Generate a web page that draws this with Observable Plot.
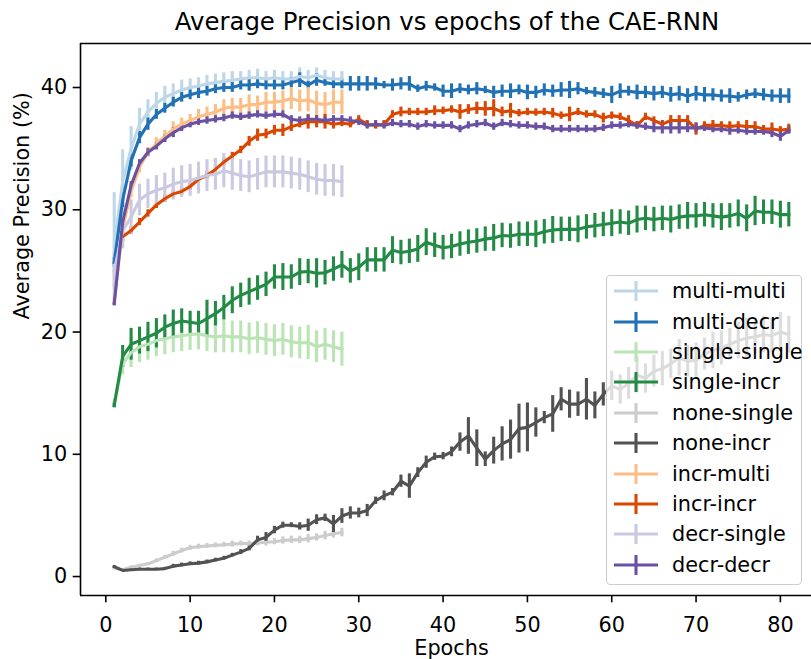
<!DOCTYPE html>
<html>
<head>
<meta charset="utf-8">
<script src="https://cdn.jsdelivr.net/npm/d3@7"></script>
<script src="https://cdn.jsdelivr.net/npm/@observablehq/plot@0.6"></script>
<style>
  body { margin: 0; background: #fff; }
  #wrap { position: relative; width: 811px; height: 659px; overflow: hidden; font-family: "DejaVu Sans", sans-serif; background: #fff; }
  #title { position: absolute; left: 0; top: 7px; width: 894px; text-align: center; font-size: 24.4px; line-height: 30px; color: #000; white-space: nowrap; }
  #chart { position: absolute; left: 0; top: 35px; }
  #legend { position: absolute; left: 606px; top: 275px; width: 196px; height: 310px; box-sizing: border-box;
            border: 1.6px solid #cccccc; border-radius: 4px; background: rgba(255,255,255,0.8); }
  .row { position: absolute; left: 0; height: 30px; line-height: 30px; width: 190px; }
  .row svg { position: absolute; left: 6px; top: 0; }
  .row span { position: absolute; left: 65px; top: 0; font-size: 20.8px; color: #000; white-space: nowrap; }
</style>
</head>
<body>
<div id="wrap">
  <div id="title">Average Precision vs epochs of the CAE-RNN</div>
  <div id="chart"></div>
  <div id="legend"></div>
</div>
<script>
// ---- data ----
const seriesNames = ["multi-multi","multi-decr","single-single","single-incr","none-single","none-incr","incr-multi","incr-incr","decr-single","decr-decr"];
const seriesColors = ["#bdd7e7","#2171b5","#bae4b3","#238b45","#cccccc","#525252","#fdbe85","#d94701","#cbc9e2","#6a51a3"];
// first epoch of each series
const seriesStart = [1,1,1,1,1,1,1,2,1,1];
const xTicks = [0,10,20,30,40,50,60,70,80];
const yTicks = [0,10,20,30,40];

const multiMulti = [27.0,32.3,35.0,37.0,38.0,38.7,39.2,39.5,39.8,40.0,40.1,40.3,40.4,40.5,40.6,40.7,40.8,40.8,40.7,40.8,40.7,40.7,40.9,40.8,41.0,40.8,40.7,40.7];
const multiMultiErr = [4.4,2.6,1.8,1.3,1.0,0.9,0.9,0.8,0.8,0.7,0.7,0.7,0.7,0.7,0.7,0.6,0.6,0.7,0.6,0.6,0.6,0.6,0.7,0.6,0.6,0.6,0.6,0.6];

const multiDecr = [25.7,30.8,34.0,35.9,37.0,37.8,38.3,38.8,39.2,39.4,
  39.6,39.7,39.9,40.0,40.0,40.2,40.2,40.3,40.2,40.2,
  40.2,40.4,40.6,40.2,40.6,40.4,40.3,40.3,40.3,40.3,
  40.3,40.3,40.2,40.2,40.3,40.3,39.9,40.1,40.0,39.7,
  39.7,39.9,39.8,39.9,39.8,39.6,39.7,39.7,39.8,39.6,
  39.6,39.8,39.7,39.8,39.8,39.9,39.7,39.6,39.5,39.4,
  39.7,39.7,39.6,39.6,39.5,39.6,39.4,39.5,39.3,39.5,
  39.4,39.4,39.3,39.3,39.2,39.4,39.5,39.4,39.3,39.3,39.3];
const multiDecrErr = [0.4,0.6,0.5,0.5,0.5,0.4,0.4,0.4,0.4,0.4,
  0.5,0.4,0.4,0.4,0.4,0.4,0.5,0.4,0.4,0.4,
  0.4,0.4,0.6,0.3,0.5,0.3,0.4,0.4,0.6,0.6,
  0.6,0.5,0.3,0.5,0.5,0.6,0.3,0.4,0.3,0.5,
  0.6,0.4,0.4,0.5,0.3,0.5,0.5,0.6,0.4,0.6,
  0.5,0.5,0.5,0.6,0.7,0.5,0.3,0.4,0.4,0.7,
  0.6,0.4,0.6,0.5,0.6,0.5,0.6,0.6,0.6,0.6,
  0.6,0.5,0.5,0.6,0.4,0.4,0.4,0.5,0.5,0.6,0.6];

const singleSingle = [14.2,17.4,18.3,18.8,19.0,19.3,19.45,19.6,19.7,19.8,19.85,19.7,19.6,19.7,19.6,19.6,19.45,19.55,19.4,19.3,19.4,19.2,19.1,19.15,18.8,19.0,18.8,18.6];
const singleSingleErr = [0.3,0.9,1.2,1.3,1.3,1.3,1.3,1.3,1.3,1.3,1.3,1.3,1.3,1.4,1.3,1.3,1.3,1.3,1.3,1.3,1.3,1.3,1.3,1.4,1.3,1.3,1.3,1.4];

const singleIncr = [14.0,18.0,19.0,19.3,19.6,19.9,20.4,20.7,20.9,20.8,
  20.7,21.1,21.5,22.0,22.6,23.0,23.3,23.6,23.9,24.5,
  24.5,24.5,24.9,24.95,24.8,24.85,25.15,25.5,25.0,25.3,
  25.9,25.9,25.9,26.7,26.5,26.6,26.8,27.35,27.1,26.9,
  27.0,27.2,27.35,27.45,27.6,27.7,27.9,27.85,28.0,28.0,
  28.0,28.2,28.35,28.4,28.4,28.4,28.6,28.7,28.8,28.9,
  29.0,28.9,29.2,29.3,29.2,29.3,29.2,29.4,29.5,29.5,
  29.6,29.5,29.4,29.5,29.7,29.3,29.9,29.8,29.8,29.6,29.6];
const singleIncrErr = [0.2,0.9,1.3,1.1,1.2,1.2,1.0,1.1,1.0,0.9,
  1.0,1.5,1.0,1.0,1.1,1.0,1.1,1.0,1.0,1.0,
  1.1,1.0,1.1,1.0,1.2,1.0,1.0,1.1,1.0,1.1,
  1.0,1.0,1.0,1.1,1.0,1.0,1.1,1.1,1.0,1.0,
  1.0,1.0,1.0,1.0,1.0,1.1,1.0,1.0,1.0,1.0,
  1.1,1.0,1.1,1.0,1.0,1.1,1.0,1.0,1.0,1.1,
  1.0,1.0,1.1,1.0,1.0,1.0,1.1,1.0,1.1,1.0,
  1.0,1.0,1.1,1.0,1.1,1.1,1.2,1.0,1.0,1.1,1.0];

const noneSingle = [0.7,0.55,0.76,0.9,1.04,1.3,1.58,1.85,2.13,2.35,2.45,2.5,2.55,2.6,2.65,2.7,2.7,2.75,2.8,2.85,2.95,3.0,3.0,3.1,3.2,3.35,3.5,3.6];
const noneSingleErr = [0.05,0.1,0.1,0.1,0.1,0.15,0.15,0.2,0.2,0.2,0.2,0.2,0.2,0.2,0.25,0.2,0.2,0.25,0.3,0.25,0.3,0.3,0.3,0.35,0.3,0.35,0.35,0.35];

const noneIncr = [0.8,0.5,0.55,0.6,0.6,0.6,0.65,0.85,0.95,1.05,
  1.1,1.2,1.35,1.5,1.75,2.0,2.3,3.0,3.2,3.8,
  4.2,4.2,4.1,4.2,4.65,4.8,4.3,4.95,5.2,5.2,
  5.4,6.2,6.6,6.9,7.8,7.4,8.5,9.35,9.8,9.85,
  10.2,11.0,11.5,10.5,9.6,10.3,10.85,11.2,12.1,12.2,
  12.6,13.0,13.3,14.5,14.1,14.1,14.5,14.0,14.9,15.6,
  15.3,15.8,16.5,16.2,16.8,17.0,17.4,17.9,17.6,17.7,
  18.2,18.5,18.7,19.0,19.3,19.5,19.6,19.8,19.7,20.0,19.8];
const noneIncrErr = [0.1,0.1,0.1,0.1,0.1,0.1,0.1,0.15,0.15,0.15,
  0.15,0.15,0.15,0.15,0.15,0.2,0.2,0.3,0.4,0.3,
  0.25,0.2,0.3,0.5,0.4,0.3,0.7,0.6,0.5,0.4,
  0.5,0.3,0.4,0.3,0.5,1.0,0.4,0.5,0.3,0.3,
  0.4,0.75,1.5,1.5,0.6,1.1,1.4,1.6,2.0,2.0,
  1.2,0.5,1.5,0.95,1.15,1.0,1.7,1.1,0.95,1.2,
  1.2,1.3,1.5,1.2,1.3,1.4,1.2,1.5,1.3,1.4,
  1.3,1.5,1.4,1.3,1.5,1.6,1.4,1.5,1.4,1.6,1.5];

const incrMulti = [22.5,28.5,31.5,33.5,34.7,35.4,36.0,36.6,37.0,37.3,37.6,37.8,38.0,38.3,38.4,38.4,38.6,38.6,38.8,38.8,38.9,39.1,38.9,39.0,38.7,38.6,38.8,38.8];
const incrMultiErr = [0.3,0.6,0.5,0.5,0.4,0.5,0.5,0.6,0.5,0.5,0.6,0.6,0.6,0.7,0.7,0.7,0.8,0.7,0.8,0.8,0.8,0.9,0.9,1.0,1.0,1.0,1.0,1.0];

// incr-incr: epochs 2..81
const incrIncr = [27.8,28.3,29.0,29.7,30.4,30.9,31.3,31.5,31.9,
  32.5,32.8,33.3,33.9,34.4,34.9,35.6,36.1,36.2,36.5,
  36.5,36.8,37.0,37.2,37.2,37.2,37.0,37.1,37.0,37.4,
  37.0,36.9,37.0,37.8,38.0,38.0,38.0,38.0,38.1,38.1,
  38.2,38.0,38.2,38.3,38.25,38.3,38.0,38.1,37.9,38.0,
  37.95,38.0,37.9,37.7,37.8,38.0,37.8,37.8,37.5,37.7,
  37.6,37.3,36.9,37.6,37.3,37.0,37.3,37.3,37.3,36.6,
  36.9,36.9,36.9,36.8,36.9,36.8,36.8,36.6,36.6,36.5,36.6];
const incrIncrErr = [0.4,0.3,0.3,0.3,0.3,0.3,0.3,0.3,0.3,
  0.3,0.3,0.3,0.3,0.3,0.3,0.4,0.5,0.4,0.4,
  0.5,0.4,0.3,0.6,0.5,0.6,0.4,0.3,0.3,0.3,
  0.3,0.3,0.3,0.3,0.4,0.3,0.3,0.3,0.4,0.3,
  0.3,0.6,0.4,0.5,0.6,0.7,0.4,0.6,0.3,0.3,
  0.3,0.3,0.4,0.3,0.6,0.3,0.3,0.3,0.4,0.3,
  0.3,0.4,0.3,0.3,0.3,0.3,0.4,0.4,0.4,0.5,
  0.3,0.4,0.3,0.4,0.3,0.5,0.4,0.3,0.5,0.3,0.4];

const decrSingle = [25.0,28.3,29.4,30.8,31.3,31.6,31.8,32.1,32.3,32.4,32.6,32.8,32.9,33.2,33.0,32.8,32.7,32.9,33.1,33.1,33.1,33.0,32.9,32.7,32.5,32.4,32.4,32.3];
const decrSingleErr = [1.5,1.5,1.4,1.3,1.2,1.2,1.2,1.3,1.3,1.3,1.3,1.3,1.3,1.4,1.4,1.3,1.3,1.3,1.3,1.3,1.3,1.3,1.3,1.3,1.3,1.3,1.3,1.3];

const decrDecr = [22.3,29.0,32.0,33.8,34.7,35.2,35.8,36.3,36.7,37.0,
  37.2,37.3,37.4,37.5,37.7,37.6,37.7,37.8,37.7,37.8,
  37.8,37.4,37.3,37.4,37.4,37.3,37.4,37.4,37.3,37.2,
  36.9,37.0,36.9,37.1,37.0,37.0,36.8,37.0,36.9,36.9,
  36.9,36.6,36.9,37.0,37.1,36.8,37.1,37.0,36.9,36.9,
  36.8,36.8,36.6,36.6,36.6,36.6,36.6,36.6,36.7,36.9,
  36.9,37.0,36.9,36.8,36.7,36.7,36.7,36.7,36.7,36.7,
  36.7,36.6,36.6,36.5,36.5,36.4,36.4,36.4,36.3,36.0,36.5];
const decrDecrErr = [0.1,0.3,0.3,0.3,0.3,0.3,0.3,0.4,0.3,0.3,
  0.3,0.3,0.3,0.3,0.3,0.3,0.3,0.3,0.3,0.3,
  0.3,0.3,0.3,0.3,0.3,0.3,0.3,0.3,0.3,0.3,
  0.3,0.3,0.3,0.3,0.3,0.3,0.3,0.3,0.3,0.3,
  0.3,0.3,0.3,0.3,0.3,0.3,0.3,0.3,0.3,0.3,
  0.3,0.3,0.3,0.3,0.3,0.3,0.3,0.3,0.3,0.3,
  0.3,0.3,0.3,0.3,0.4,0.5,0.5,0.5,0.4,0.4,
  0.3,0.3,0.3,0.4,0.3,0.3,0.3,0.3,0.4,0.4,0.3];

const seriesValues = [multiMulti, multiDecr, singleSingle, singleIncr, noneSingle, noneIncr, incrMulti, incrIncr, decrSingle, decrDecr];
const seriesErrors = [multiMultiErr, multiDecrErr, singleSingleErr, singleIncrErr, noneSingleErr, noneIncrErr, incrMultiErr, incrIncrErr, decrSingleErr, decrDecrErr];

// ---- build tables ----
const tables = seriesNames.map((name, k) =>
  seriesValues[k].map((v, i) => ({name, epoch: i + seriesStart[k], value: v, err: seriesErrors[k][i]})));

const xDomain = [-3, 83.69];
const yDomain = [-1.55, 43.6];
const LW = 3.1;

// matplotlib errorbar: bars at zorder 2, data lines at 2.1 -> all bars first, then all lines
const barMarks = tables.map((rows, k) => Plot.ruleX(rows, {
  x: "epoch", y1: d => d.value - d.err, y2: d => d.value + d.err,
  stroke: seriesColors[k], strokeWidth: LW, strokeLinecap: "butt"
}));
const lineMarks = tables.map((rows, k) => Plot.line(rows, {
  x: "epoch", y: "value", stroke: seriesColors[k], strokeWidth: LW,
  strokeLinejoin: "round", strokeLinecap: "square"
}));

const chart = Plot.plot({
  width: 811,
  height: 624,
  marginLeft: 80,
  marginRight: 0,
  marginTop: 8,
  marginBottom: 64,
  style: {fontFamily: "DejaVu Sans", fontSize: "20.8px", background: "white", color: "black", overflow: "visible"},
  x: {domain: xDomain},
  y: {domain: yDomain},
  marks: [
    ...barMarks,
    ...lineMarks,
    Plot.ruleX([xDomain[0]], {stroke: "black", strokeWidth: 1.6}),
    Plot.ruleY([yDomain[0]], {stroke: "black", strokeWidth: 1.6}),
    Plot.ruleY([yDomain[1]], {stroke: "black", strokeWidth: 1.6}),
    Plot.axisX({ticks: xTicks, tickSize: 7.3, tickPadding: 14, strokeWidth: 1.6, label: null, fontSize: 20.8, tickFormat: d => String(d)}),
    Plot.axisY({ticks: yTicks, tickSize: 7.3, tickPadding: 6, strokeWidth: 1.6, label: null, fontSize: 20.8, tickFormat: d => String(d)}),
    Plot.text([{x: (xDomain[0] + 85) / 2, t: "Epochs"}], {x: "x", text: "t", frameAnchor: "bottom", dy: 53, fontSize: 20.8, lineAnchor: "middle"}),
    Plot.text([{y: (yDomain[0] + yDomain[1]) / 2, t: "Average Precision (%)"}], {y: "y", text: "t", frameAnchor: "left", dx: -58, rotate: -90, fontSize: 20.8, lineAnchor: "middle"})
  ]
});
document.getElementById("chart").appendChild(chart);

// ---- legend (matplotlib-style, inside axes, alpha 0.8 frame) ----
const legend = document.getElementById("legend");
seriesNames.forEach((name, k) => {
  const row = document.createElement("div");
  row.className = "row";
  row.style.top = (16.7 - 1.6 + 30.4 * k - 15) + "px";
  const c = seriesColors[k];
  row.innerHTML = `<svg width="46" height="30"><line x1="1" y1="15" x2="45" y2="15" stroke="${c}" stroke-width="${LW}"/>` +
    `<line x1="23" y1="5" x2="23" y2="25" stroke="${c}" stroke-width="${LW}"/></svg><span>${name}</span>`;
  legend.appendChild(row);
});
</script>
</body>
</html>
